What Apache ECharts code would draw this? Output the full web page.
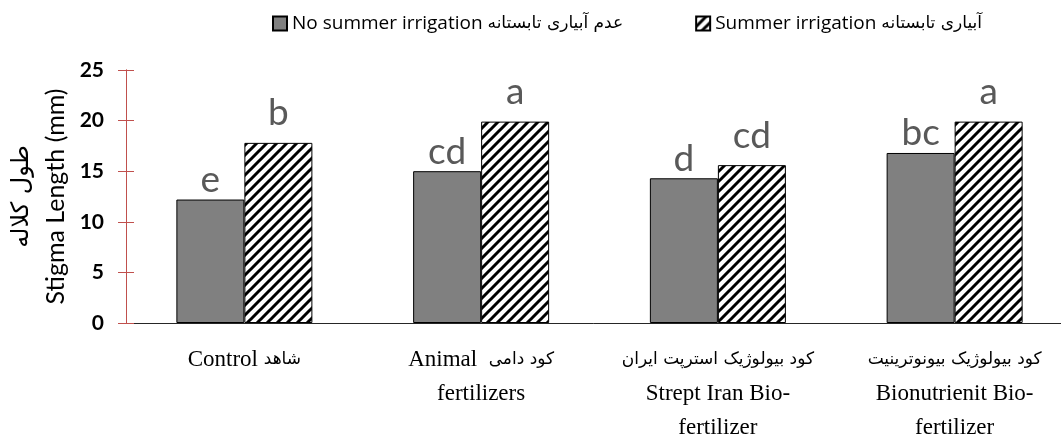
<!DOCTYPE html>
<html>
<head>
<meta charset="utf-8">
<script src="https://cdn.jsdelivr.net/npm/echarts@6/dist/echarts.min.js"></script>
<style>
  html, body { margin: 0; padding: 0; background: #fff; }
  #main { width: 1061px; height: 437px; }
</style>
</head>
<body>
<div id="main"></div>
<script>
// data
const categories = [
    'Control شاهد',
    'Animal  کود دامی\nfertilizers',
    'کود بیولوژیک استرپت ایران\nStrept Iran Bio-\nfertilizer',
    'کود بیولوژیک بیونوترینیت\nBionutrienit Bio-\nfertilizer'
];
const noIrrigation = [12.2, 15.0, 14.3, 16.8];
const irrigation = [17.8, 19.9, 15.6, 19.9];
const noIrrigationLetters = ['e', 'cd', 'd', 'bc'];
const irrigationLetters = ['b', 'a', 'cd', 'a'];
const seriesNames = ['No summer irrigation عدم آبیاری تابستانه', 'Summer irrigation آبیاری تابستانه'];

// wrap Persian runs so they get their own font size
const faRun = /[\u0600-\u06FF\u200c]+(?:\s+[\u0600-\u06FF\u200c]+)*/g;
function markPersian(s) {
    return s.replace(faRun, m => '{fa|' + m + '}');
}

// hatch pattern (diagonal black lines on white)
function makeHatch() {
    const c = document.createElement('canvas');
    c.width = 10; c.height = 10;
    const ctx = c.getContext('2d');
    ctx.fillStyle = '#fff';
    ctx.fillRect(0, 0, 10, 10);
    ctx.strokeStyle = '#000';
    ctx.lineWidth = 3;
    ctx.beginPath();
    ctx.moveTo(-5, 5); ctx.lineTo(5, -5);
    ctx.moveTo(0, 10); ctx.lineTo(10, 0);
    ctx.moveTo(5, 15); ctx.lineTo(15, 5);
    ctx.stroke();
    return c;
}

const myChart = echarts.init(document.getElementById('main'));

const letterLabel = (letters, dist) => ({
    show: true,
    position: 'top',
    distance: dist,
    fontFamily: 'Lato, sans-serif',
    fontSize: 37,
    color: '#595959',
    formatter: p => letters[p.dataIndex]
});

const option = {
    animation: false,
    legend: {
        top: 9,
        left: 267,
        icon: 'rect',
        itemWidth: 14,
        itemHeight: 14,
        itemGap: 72,
        formatter: name => markPersian(name),
        textStyle: {
            fontFamily: '"Open Sans", sans-serif', fontSize: 19, color: '#000',
            rich: { fa: { fontFamily: 'DejaVu Sans, sans-serif', fontSize: 17, color: '#000' } }
        },
        data: seriesNames
    },
    grid: { left: 126, right: -12, top: 70, bottom: 114, outerBoundsMode: 'none', containLabel: false },
    xAxis: {
        type: 'category',
        data: categories,
        axisLine: { lineStyle: { color: '#262626', width: 1 } },
        axisTick: { show: false },
        axisLabel: {
            interval: 0,
            margin: 20,
            fontFamily: '"Liberation Serif", "Times New Roman", serif',
            fontSize: 23,
            lineHeight: 34,
            color: '#000',
            formatter: v => markPersian(v),
            rich: { fa: { fontFamily: 'DejaVu Sans, sans-serif', fontSize: 17, lineHeight: 34, color: '#000' } }
        }
    },
    yAxis: [
        {
            type: 'value',
            min: 0, max: 25, interval: 5,
            name: '{fa|طول کلاله}\n{en|Stigma Length (mm)}',
            nameLocation: 'middle',
            nameGap: 52,
            nameRotate: 90,
            nameTextStyle: {
                rich: {
                    fa: { fontFamily: 'DejaVu Sans, sans-serif', fontSize: 24, color: '#000', lineHeight: 40 },
                    en: { fontFamily: 'Lato, sans-serif', fontSize: 25, color: '#000', lineHeight: 28 }
                }
            },
            axisLine: { show: true, lineStyle: { color: '#c0504d' } },
            axisTick: { show: true, length: 8, lineStyle: { color: '#c0504d' } },
            axisLabel: {
                margin: 22,
                fontFamily: 'Lato, sans-serif',
                fontWeight: 'bold',
                fontSize: 21,
                color: '#000'
            },
            splitLine: { show: false }
        },
        {
            type: 'value',
            position: 'left',
            min: 0, max: 25, interval: 5,
            axisLine: { show: true, lineStyle: { color: '#c0504d' } },
            axisTick: { show: true, inside: true, length: 8, lineStyle: { color: '#c0504d' } },
            axisLabel: { show: false },
            splitLine: { show: false }
        }
    ],
    series: [
        {
            name: seriesNames[0],
            type: 'bar',
            barWidth: 68,
            barGap: '0%',
            data: noIrrigation,
            itemStyle: { color: '#808080', borderColor: '#000', borderWidth: 1 },
            label: letterLabel(noIrrigationLetters, 1)
        },
        {
            name: seriesNames[1],
            type: 'bar',
            barWidth: 68,
            barGap: '0%',
            data: irrigation,
            itemStyle: { color: { image: makeHatch(), repeat: 'repeat' }, borderColor: '#000', borderWidth: 1 },
            label: letterLabel(irrigationLetters, 11)
        }
    ]
};
myChart.setOption(option);
</script>
</body>
</html>
